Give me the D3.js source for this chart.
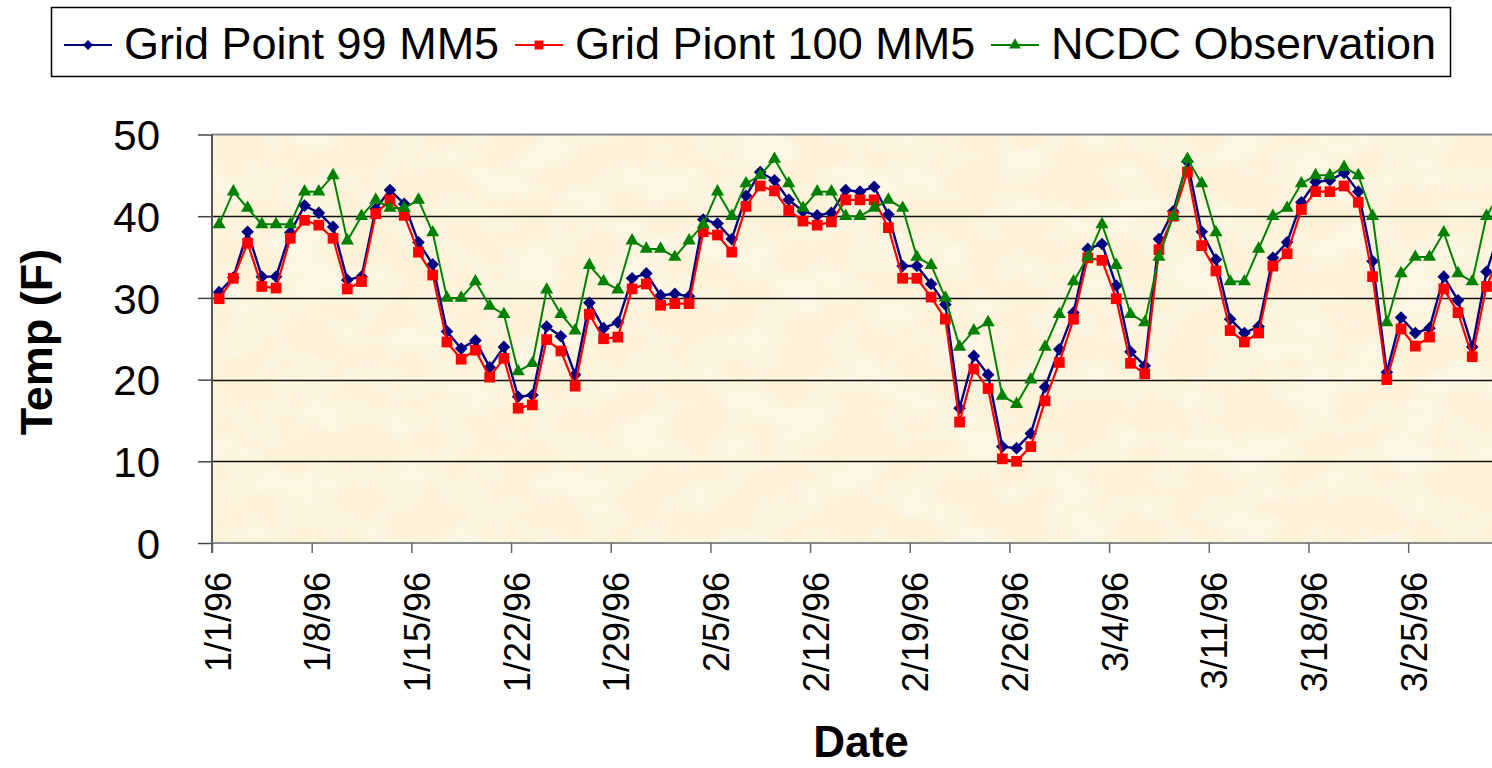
<!DOCTYPE html>
<html>
<head>
<meta charset="utf-8">
<script src="https://cdn.jsdelivr.net/npm/d3@7"></script>
<style>
  body { margin: 0; background: #fff; }
  text { font-family: "Liberation Sans", Arial, sans-serif; }
</style>
</head>
<body>
<div id="chart"></div>
<script>
// Daily temperatures, 1/1/96 onward (one value per day)
const startDate = "1996-01-01";
const dayCount = 91;

const gridPoint99 = [
    30.7, 32.5, 38.1, 32.6, 32.6, 38.0, 41.3, 40.4, 38.7, 32.2,
    32.6, 40.9, 43.2, 41.5, 36.8, 34.1, 25.9, 23.8, 24.8, 21.5,
    24.0, 17.9, 18.1, 26.5, 25.3, 20.6, 29.4, 26.3, 27.0, 32.4,
    33.0, 30.3, 30.5, 30.2, 39.6, 39.1, 37.2, 42.5, 45.4, 44.4,
    42.0, 40.6, 40.1, 40.4, 43.2, 43.0, 43.6, 40.2, 33.9, 33.9,
    31.7, 29.2, 16.5, 22.9, 20.6, 11.8, 11.6, 13.4, 19.1, 23.7,
    28.2, 36.0, 36.6, 31.5, 23.4, 21.7, 37.2, 40.6, 46.7, 38.1,
    34.7, 27.4, 25.7, 26.5, 34.9, 36.8, 41.7, 44.2, 44.4, 45.3,
    43.0, 34.5, 20.9, 27.6, 25.7, 26.3, 32.6, 29.7, 24.0, 33.2,
    38.5
];

const gridPoint100 = [
    29.9, 32.4, 36.7, 31.4, 31.2, 37.3, 39.5, 38.9, 37.3, 31.1,
    32.0, 40.3, 42.0, 40.1, 35.6, 32.8, 24.6, 22.5, 23.6, 20.3,
    22.6, 16.5, 16.9, 24.9, 23.5, 19.2, 28.0, 25.0, 25.2, 31.1,
    31.7, 29.1, 29.3, 29.3, 38.1, 37.7, 35.6, 41.2, 43.7, 43.1,
    40.7, 39.4, 38.9, 39.3, 42.0, 42.0, 42.0, 38.6, 32.4, 32.4,
    30.1, 27.4, 14.8, 21.3, 18.9, 10.3, 10.0, 11.8, 17.4, 22.1,
    27.4, 34.9, 34.6, 29.9, 22.0, 20.7, 35.9, 40.0, 45.4, 36.4,
    33.3, 26.0, 24.6, 25.7, 33.9, 35.4, 40.8, 43.0, 43.0, 43.7,
    41.7, 32.6, 20.0, 26.2, 24.1, 25.2, 31.1, 28.2, 22.8, 31.4,
    35.5
];

const ncdcObs = [
    39, 43, 41, 39, 39, 39, 43, 43, 45, 37,
    40, 42, 41, 41, 42, 38, 30, 30, 32, 29,
    28, 21, 22, 31, 28, 26, 34, 32, 31, 37,
    36, 36, 35, 37, 39, 43, 40, 44, 45, 47,
    44, 41, 43, 43, 40, 40, 41, 42, 41, 35,
    34, 30, 24, 26, 27, 18, 17, 20, 24, 28,
    32, 35, 39, 34, 28, 27, 35, 40, 47, 44,
    38, 32, 32, 36, 40, 41, 44, 45, 45, 46,
    45, 40, 27, 33, 35, 35, 38, 33, 32, 40,
    43
];

const xTickLabels = ["1/1/96", "1/8/96", "1/15/96", "1/22/96", "1/29/96", "2/5/96", "2/12/96",
    "2/19/96", "2/26/96", "3/4/96", "3/11/96", "3/18/96", "3/25/96"];
const yTicks = [0, 10, 20, 30, 40, 50];

const seriesNames = ["Grid Point 99 MM5", "Grid Piont 100 MM5", "NCDC Observation"];
const seriesColors = ["#000080", "#ff0000", "#008000"];

// Excel-style diamond (a square turned 45 degrees)
const symbolRhomb = {
    draw(context, size) {
        const r = Math.sqrt(size / 2);
        context.moveTo(0, -r);
        context.lineTo(r, 0);
        context.lineTo(0, r);
        context.lineTo(-r, 0);
        context.closePath();
    }
};
const seriesShapes = [symbolRhomb, d3.symbolSquare, d3.symbolTriangle];

// Layout
const W = 1492, H = 768;
const plotLeft = 212, plotTop = 134.5, plotBottom = 543;
const dayWidth = 14.24;

const parseDate = d3.utcParse("%Y-%m-%d");
const parseTick = d3.utcParse("%m/%d/%y");
const start = parseDate(startDate);
const days = d3.utcDay.range(start, d3.utcDay.offset(start, dayCount));

const x = d3.scaleUtc()
    .domain([start, d3.utcDay.offset(start, dayCount)])
    .range([plotLeft, plotLeft + dayCount * dayWidth]);

const y = d3.scaleLinear()
    .domain([0, 50])
    .range([plotBottom, plotTop]);

const svg = d3.select("#chart")
    .append("svg")
    .attr("width", W)
    .attr("height", H);

// Parchment-like plot background
const defs = svg.append("defs");
const paper = defs.append("filter")
    .attr("id", "paper")
    .attr("x", 0).attr("y", 0).attr("width", "100%").attr("height", "100%");
paper.append("feTurbulence")
    .attr("type", "fractalNoise")
    .attr("baseFrequency", "0.018 0.03")
    .attr("numOctaves", 3)
    .attr("seed", 7);
paper.append("feColorMatrix")
    .attr("type", "matrix")
    .attr("values", "0 0 0 0 1  0 0 0 0 1  0 0 0 0 1  1.6 0 0 0 -0.6");

svg.append("rect")
    .attr("x", plotLeft)
    .attr("y", plotTop)
    .attr("width", W - plotLeft)
    .attr("height", plotBottom - plotTop)
    .attr("fill", "#fcf2d7");

svg.append("rect")
    .attr("x", plotLeft)
    .attr("y", plotTop)
    .attr("width", W - plotLeft)
    .attr("height", plotBottom - plotTop)
    .attr("filter", "url(#paper)")
    .attr("opacity", 0.6);

// Gridlines
svg.append("g")
    .selectAll("line")
    .data(yTicks.filter(d => d > 0 && d < 50))
    .enter()
    .append("line")
    .attr("x1", plotLeft)
    .attr("x2", W)
    .attr("y1", d => Math.round(y(d)) + 0.5)
    .attr("y2", d => Math.round(y(d)) + 0.5)
    .attr("stroke", "#111")
    .attr("stroke-width", 1.3);

// top border of the plot
svg.append("line")
    .attr("x1", plotLeft).attr("x2", W)
    .attr("y1", y(50)).attr("y2", y(50))
    .attr("stroke", "#8a8a8a")
    .attr("stroke-width", 2);

// Y axis
const yAxis = d3.axisLeft(y)
    .tickValues(yTicks)
    .tickSize(14)
    .tickPadding(38)
    .tickFormat(d3.format("d"));

const gy = svg.append("g")
    .attr("transform", `translate(${plotLeft},0)`)
    .call(yAxis);
gy.select(".domain")
    .attr("d", `M0,${plotTop}V${plotBottom + 10}`)
    .attr("stroke", "#555")
    .attr("stroke-width", 2);
gy.selectAll(".tick line").attr("stroke", "#444").attr("stroke-width", 1.5);
gy.selectAll(".tick text")
    .attr("font-size", 42)
    .attr("font-family", "Liberation Sans, Arial, sans-serif")
    .attr("fill", "#000")
    .attr("dy", "0.36em");

// X axis
const xAxis = d3.axisBottom(x)
    .tickValues(xTickLabels.map(parseTick))
    .tickSize(10)
    .tickFormat(d => xTickLabels.find(s => +parseTick(s) === +d));

const gx = svg.append("g")
    .attr("transform", `translate(0,${plotBottom})`)
    .call(xAxis);
gx.select(".domain")
    .attr("d", `M${plotLeft},0H${W}`)
    .attr("stroke", "#8a8a8a")
    .attr("stroke-width", 2);
gx.selectAll(".tick line").attr("stroke", "#666").attr("stroke-width", 1.5);
gx.selectAll(".tick text")
    .attr("font-size", 36)
    .attr("font-family", "Liberation Sans, Arial, sans-serif")
    .attr("fill", "#000")
    .attr("text-anchor", "end")
    .attr("transform", "translate(0,29) rotate(-90)")
    .attr("x", 0)
    .attr("y", 0)
    .attr("dy", 18);

// Series
const allSeries = [gridPoint99, gridPoint100, ncdcObs];
const markerSizes = [80, 115, 75];
const lineWidths = [2.4, 2.2, 2];

const line = d3.line()
    .x((d, i) => x(d3.utcHour.offset(days[i], 12)))
    .y(d => y(d));

allSeries.forEach((values, k) => {
    const g = svg.append("g");
    g.append("path")
        .datum(values)
        .attr("fill", "none")
        .attr("stroke", seriesColors[k])
        .attr("stroke-width", lineWidths[k])
        .attr("stroke-linejoin", "round")
        .attr("d", line);

    g.selectAll("path.marker")
        .data(values)
        .enter()
        .append("path")
        .attr("class", "marker")
        .attr("d", d3.symbol().type(seriesShapes[k]).size(markerSizes[k]))
        .attr("transform", (d, i) => `translate(${x(d3.utcHour.offset(days[i], 12))},${y(d)})`)
        .attr("fill", seriesColors[k]);
});

// Axis titles
svg.append("text")
    .attr("transform", "translate(52,342) rotate(-90)")
    .attr("text-anchor", "middle")
    .attr("font-size", 45)
    .attr("font-weight", "bold")
    .text("Temp (F)");

svg.append("text")
    .attr("x", 861)
    .attr("y", 757)
    .attr("text-anchor", "middle")
    .attr("font-size", 44)
    .attr("font-weight", "bold")
    .text("Date");

// Legend
const legend = svg.append("g");
legend.append("rect")
    .attr("x", 51.5)
    .attr("y", 7.5)
    .attr("width", 1399)
    .attr("height", 69)
    .attr("fill", "#fff")
    .attr("stroke", "#000")
    .attr("stroke-width", 1.5);

const legendX = [64, 515, 991];
const legendSizes = [50, 80, 60];
seriesNames.forEach((name, k) => {
    const lx = legendX[k];
    legend.append("line")
        .attr("x1", lx).attr("x2", lx + 48)
        .attr("y1", 45).attr("y2", 45)
        .attr("stroke", seriesColors[k])
        .attr("stroke-width", 2);
    legend.append("path")
        .attr("d", d3.symbol().type(seriesShapes[k]).size(legendSizes[k]))
        .attr("transform", `translate(${lx + 24},45)`)
        .attr("fill", seriesColors[k]);
    legend.append("text")
        .attr("x", lx + 60)
        .attr("y", 59)
        .attr("font-size", 45)
        .text(name);
});
</script>
</body>
</html>
